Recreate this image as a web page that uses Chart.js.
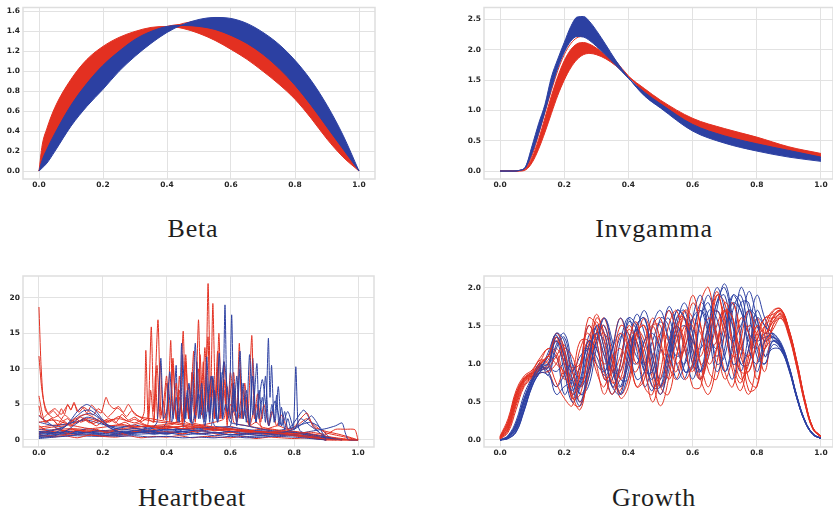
<!DOCTYPE html>
<html><head><meta charset="utf-8">
<script src="https://cdn.jsdelivr.net/npm/chart.js@4/dist/chart.umd.min.js"></script>
<style>
body{margin:0;background:#fff;width:833px;height:512px;overflow:hidden;position:relative}
canvas{position:absolute}
.t{position:absolute;font-family:"Liberation Serif",serif;font-size:26px;line-height:26px;letter-spacing:0.8px;color:#1e1e1e;text-align:center;width:300px}
</style></head><body>
<canvas id="c1" width="390" height="200" style="left:0;top:0"></canvas>
<canvas id="c2" width="393" height="200" style="left:440px;top:0"></canvas>
<canvas id="c3" width="390" height="200" style="left:0;top:265px"></canvas>
<canvas id="c4" width="393" height="200" style="left:440px;top:265px"></canvas>
<div class="t" style="left:43px;top:216px">Beta</div>
<div class="t" style="left:504px;top:216px">Invgamma</div>
<div class="t" style="left:42px;top:485px">Heartbeat</div>
<div class="t" style="left:504px;top:485px">Growth</div>
<script>
// ---------- Beta ----------
const betaX = [0,0.01,0.025,0.05,0.1,0.15,0.2,0.25,0.3,0.35,0.4,0.45,0.5,0.55,0.6,0.65,0.7,0.75,0.8,0.85,0.9,0.95,1];
const betaRedOuter = [0,0.26,0.43,0.64,0.92,1.12,1.25,1.34,1.40,1.44,1.45,1.43,1.38,1.31,1.22,1.12,1.00,0.87,0.72,0.53,0.32,0.14,0];
const betaRedInner = [0,0.1,0.2,0.36,0.64,0.86,1.04,1.19,1.31,1.39,1.45,1.47,1.47,1.44,1.38,1.30,1.19,1.05,0.88,0.68,0.46,0.23,0];
const betaBlueOuter = [0,0.03,0.08,0.2,0.45,0.65,0.82,1.0,1.15,1.28,1.39,1.47,1.52,1.54,1.53,1.48,1.39,1.27,1.11,0.91,0.66,0.36,0];
const betaBlueInner = [0,0.11,0.22,0.38,0.66,0.88,1.06,1.2,1.32,1.4,1.45,1.46,1.45,1.42,1.36,1.28,1.17,1.03,0.86,0.66,0.44,0.22,0];
const betaRedLine = [0,0.08,0.17,0.3,0.55,0.76,0.94,1.09,1.23,1.34,1.42,1.48,1.50,1.48,1.43,1.35,1.24,1.10,0.94,0.74,0.52,0.27,0];
const betaXTicks = [0,0.2,0.4,0.6,0.8,1.0];
const betaYTicks = [0,0.2,0.4,0.6,0.8,1.0,1.2,1.4,1.6];

// ---------- Invgamma ----------
const invX = [0,0.04,0.06,0.08,0.10,0.12,0.14,0.16,0.18,0.20,0.22,0.24,0.26,0.28,0.30,0.33,0.36,0.40,0.45,0.5,0.6,0.7,0.8,0.9,1.0];
const invBlueOuter = [0,0,0.01,0.08,0.42,0.78,1.10,1.55,1.85,2.12,2.38,2.54,2.55,2.46,2.32,2.08,1.83,1.54,1.24,1.04,0.66,0.46,0.33,0.23,0.16];
const invBlueInner = [0,0,0.01,0.06,0.3,0.62,0.98,1.36,1.7,1.96,2.14,2.22,2.21,2.15,2.06,1.91,1.75,1.53,1.30,1.11,0.77,0.58,0.45,0.34,0.23];
const invBlueLine = [0,0,0.01,0.07,0.36,0.7,1.04,1.45,1.77,2.04,2.26,2.38,2.38,2.3,2.19,1.99,1.79,1.54,1.25,1.05,0.69,0.49,0.37,0.27,0.19];
const invRedOuter = [0,0,0,0.02,0.14,0.36,0.64,0.95,1.25,1.50,1.70,1.84,1.92,1.94,1.92,1.85,1.74,1.56,1.36,1.17,0.87,0.70,0.56,0.40,0.29];
const invRedInner = [0,0,0.005,0.04,0.22,0.52,0.88,1.24,1.56,1.82,2.0,2.1,2.12,2.09,2.03,1.91,1.77,1.56,1.30,1.10,0.76,0.57,0.44,0.33,0.22];
const invRedLine1 = [0,0,0.01,0.06,0.3,0.66,1.05,1.42,1.75,2.0,2.18,2.29,2.32,2.27,2.18,2.01,1.82,1.57,1.31,1.11,0.78,0.59,0.46,0.35,0.25];
const invRedLine2 = [0,0,0.008,0.05,0.26,0.6,0.97,1.33,1.66,1.92,2.1,2.2,2.22,2.18,2.1,1.96,1.8,1.56,1.32,1.12,0.8,0.61,0.48,0.36,0.26];
const invXTicks = [0,0.2,0.4,0.6,0.8,1.0];
const invYTicks = [0,0.5,1.0,1.5,2.0,2.5];

// ---------- Heartbeat ----------
const heartRedX = [
 [0,.006,.012,.02,.03,.045,.06,.075,.09,.1,.115,.13,.15,.17,.19,.21,.23,.25,.27,.29,.31,.33,.36,.4,.45,.5,.55,.6,.65,.7,.75,.8,.85,.88,.9,1],
 [0,.008,.016,.03,.045,.06,.07,.08,.09,.1,.11,.12,.135,.15,.165,.18,.195,.21,.22,.235,.25,.265,.28,.3,.32,.35,.4,.45,.5,.55,.6,.65,.7,.75,.8,.85,.9],
 [0,.01,.02,.04,.06,.08,.1,.13,.16,.19,.22,.25,.28,.3,.33,.36,.4,.45,.5,.55,.6,.65,.7,.75,.8,.85,.9,.93,.96,.99,1],
 [0,.03,.06,.09,.12,.15,.18,.21,.24,.27,.3,.33,.36,.39,.42,.45,.48,.51,.54,.57,.6,.63,.66,.69,.72,.75,.78,.81,.84,.87,.9,1],
 [0,.04,.08,.12,.16,.2,.24,.28,.32,.36,.4,.44,.48,.52,.56,.6,.64,.68,.72,.76,.8,.84,.88,.92,.96,1],
 [0,.04,.08,.11,.13,.15,.17,.19,.22,.26,.3,.34,.38,.42,.46,.5,.55,.6,.65,.7,.75,.8,.85,.9,1],
 [0,.05,.1,.15,.2,.25,.3,.32,.33,.335,.342,.352,.36,.373,.382,.39,.398,.406,.413,.42,.43,.44,.452,.46,.47,.48,.5,.55,.6,.65,.7,.75,.8,.85,.9],
 [0,.08,.16,.24,.32,.4,.45,.46,.47,.48,.49,.5,.508,.515,.522,.53,.538,.545,.553,.558,.564,.572,.58,.59,.6,.62,.64,.66,.68,.7,.75,.8,.85,.9,.95,1],
 [0,.1,.2,.3,.35,.4,.5,.55,.58,.59,.6,.61,.62,.628,.636,.645,.655,.667,.675,.685,.695,.705,.72,.73,.745,.76,.78,.8,.82,.84,.86,.88,.9,.95,1],
 [0,.1,.2,.3,.34,.35,.36,.37,.38,.39,.4,.41,.42,.43,.44,.45,.46,.47,.48,.49,.5,.51,.52,.53,.54,.55,.56,.57,.58,.59,.6,.62,.64,.66,.68,.7,.75,.8,.85,.9],
 [0,.02,.04,.06,.08,.1,.12,.14,.16,.18,.2,.22,.24,.26,.28,.3,.32,.34,.36,.365,.372,.38,.39,.40,.41,.42,.43,.44,.45,.46,.5,.55,.6,.65,.7,.75,.8,.85,.9,.95],
 [0,.01,.03,.05,.07,.09,.1,.11,.125,.14,.155,.17,.185,.2,.215,.23,.245,.26,.275,.29,.31,.33,.36,.4,.45,.5,.55,.6,.65,.7,.8,.9],
 [0,.1,.2,.3,.4,.43,.44,.45,.455,.46,.47,.475,.485,.49,.5,.505,.515,.52,.53,.535,.545,.55,.56,.565,.575,.58,.59,.595,.605,.61,.65,.7,.75,.8,.85,.9,.95,1],
 [0,.05,.1,.15,.2,.25,.3,.35,.4,.45,.5,.55,.6,.65,.7,.75,.8,.82,.84,.86,.88,.9,.94,.98,1]
];
const heartRedY = [
 [18.7,11,6.5,4.2,3.6,3.1,3.4,2.7,3.0,2.6,3.1,2.5,2.8,2.3,2.7,2.4,2.9,2.2,2.5,2.0,2.3,2.1,1.8,1.9,1.6,1.8,1.4,1.5,1.2,1.1,0.9,0.7,0.5,0.3,0,0],
 [11.8,7.5,5.2,3.6,4.1,3.4,4.4,3.6,5.0,4.2,5.3,4.0,4.7,3.8,4.9,4.2,3.8,6.0,5.0,4.4,4.7,3.9,5.0,3.6,3.2,3.0,2.6,2.3,2.0,1.8,1.5,1.4,1.1,1.0,0.8,0.4,0],
 [6.2,3.8,2.4,3.0,2.1,2.6,1.9,3.2,2.4,3.0,2.5,3.3,2.6,2.9,2.2,1.8,1.6,1.9,1.3,1.6,1.1,1.4,1.0,1.2,0.9,1.1,0.8,1.5,1.5,1.45,0],
 [2.0,1.2,1.6,0.9,1.4,1.1,1.5,1.0,1.3,0.8,1.2,1.0,1.4,0.9,1.1,0.8,1.2,0.9,1.0,0.7,1.1,0.8,0.9,0.6,0.8,0.5,0.7,0.5,0.4,0.3,0.1,0],
 [0.8,0.4,0.6,0.3,0.7,0.5,0.4,0.6,0.3,0.5,0.4,0.6,0.3,0.5,0.4,0.3,0.5,0.2,0.4,0.3,0.2,0.3,0.1,0.2,0.05,0],
 [1.5,1.8,2.0,2.8,3.4,3.6,3.2,2.6,2.0,2.2,1.8,2.0,1.6,1.8,1.5,1.7,1.3,1.5,1.1,1.2,0.9,0.8,0.6,0.2,0],
 [2.5,2.8,2.2,3.0,2.6,3.0,2.4,2.8,4.0,12.6,3.0,15.9,4.0,16.9,3.5,5.5,2.8,6.5,14.0,3.5,8.0,3.0,15.3,4.0,7.5,2.5,2.2,1.8,1.6,1.3,1.1,0.9,0.7,0.4,0],
 [1.8,2.2,1.6,2.0,1.9,2.2,2.8,6.0,3.0,9.5,3.5,16.9,4.5,11.0,4.0,22.0,6.0,19.2,5.0,8.0,15.0,4.0,8.5,3.0,5.0,3.0,4.0,2.0,2.5,1.8,1.4,1.2,0.9,0.5,0.1,0],
 [1.0,1.4,1.2,1.6,1.4,1.8,2.0,2.5,3.0,7.5,3.0,9.5,4.0,13.6,3.0,8.0,3.5,14.7,3.0,6.5,2.5,5.0,2.0,4.0,2.0,3.5,1.5,1.8,3.0,3.8,1.8,1.5,1.0,0.5,0],
 [0.5,0.8,0.6,1.0,2.0,7.0,2.5,10.5,3.0,5.0,9.0,2.5,11.5,3.0,7.0,2.0,12.0,3.0,6.0,2.5,10.0,3.5,13.0,4.0,9.0,3.0,12.5,3.0,7.0,2.0,9.5,2.5,7.0,2.0,5.0,1.5,2.0,1.0,0.8,0],
 [3.5,2.6,3.0,2.2,3.5,2.8,2.4,3.1,2.5,2.0,2.6,3.0,2.4,3.6,2.8,3.2,2.6,3.0,2.5,9.0,3.0,11.0,2.8,8.0,3.2,10.5,3.0,6.0,3.5,2.5,2.0,1.6,1.9,1.3,1.5,1.0,1.2,0.7,0.3,0],
 [4.8,3.0,3.8,4.4,3.6,4.9,4.3,5.1,3.9,4.6,4.1,3.5,4.4,3.9,3.2,3.8,4.5,4.0,3.3,4.1,3.4,2.9,2.6,2.4,2.1,1.8,1.6,1.3,1.1,0.9,0.6,0],
 [1.2,1.6,1.3,1.8,2.0,2.5,9.0,2.5,3.0,11.0,3.0,5.0,12.5,3.0,6.0,12.0,3.0,7.0,14.5,3.0,8.5,3.0,10.0,3.0,6.5,11.0,3.0,5.0,8.0,2.5,2.0,1.6,1.3,1.0,0.8,0.5,0.2,0],
 [1.2,0.9,1.5,1.1,1.3,0.8,1.4,1.0,1.2,0.9,1.3,1.0,1.1,0.8,1.0,0.9,1.6,2.4,3.0,2.2,1.5,1.2,0.8,0.3,0]
];
const heartBlueX = [
 [0,.03,.06,.08,.1,.12,.14,.15,.16,.18,.2,.22,.25,.3,.35,.4,.45,.5,.55,.6,.65,.7,.75,.8,.85,.9],
 [0,.04,.08,.1,.12,.14,.16,.18,.2,.23,.26,.3,.35,.4,.45,.5,.55,.6,.65,.7,.75,.8,.85,.9,.95],
 [0,.05,.09,.12,.15,.18,.21,.24,.28,.32,.36,.4,.45,.5,.55,.6,.65,.7,.75,.8,.84,.854,.87,.9],
 [0,.05,.1,.15,.2,.25,.3,.35,.4,.45,.5,.55,.6,.65,.7,.75,.8,.85,.9,.93,.95,.96,.97,1],
 [0,.1,.2,.3,.35,.37,.382,.39,.4,.41,.42,.43,.44,.447,.455,.465,.475,.482,.49,.5,.51,.52,.526,.535,.545,.555,.565,.575,.585,.6,.65,.7,.75,.8,.85,.9],
 [0,.1,.2,.3,.4,.5,.54,.55,.56,.57,.576,.583,.59,.597,.604,.611,.62,.63,.64,.65,.66,.67,.683,.69,.7,.71,.719,.724,.729,.737,.745,.752,.76,.77,.78,.79,.798,.805,.812,.82,.85,.9,.95],
 [0,.1,.2,.3,.4,.45,.47,.48,.5,.52,.54,.56,.58,.6,.61,.62,.63,.64,.65,.66,.67,.68,.7,.72,.74,.76,.78,.8,.82,.85,.88,.9],
 [0,.05,.1,.15,.2,.25,.3,.35,.4,.45,.5,.55,.6,.65,.7,.75,.8,.85,.9],
 [0,.04,.08,.11,.13,.15,.17,.19,.21,.24,.28,.32,.36,.4,.45,.5,.55,.6,.65,.7,.75,.8,.85,.9],
 [0,.1,.2,.3,.38,.4,.405,.415,.42,.43,.435,.445,.45,.46,.465,.475,.48,.49,.495,.505,.51,.52,.525,.535,.54,.55,.6,.65,.7,.75,.8,.85,.9],
 [0,.1,.2,.3,.4,.5,.55,.6,.61,.62,.63,.64,.65,.66,.67,.68,.69,.7,.71,.72,.73,.74,.75,.76,.77,.78,.8,.83,.86,.88,.9,.93],
 [0,.05,.1,.15,.2,.25,.3,.35,.4,.45,.5,.55,.6,.65,.7,.75,.8,.85,.88,.9,.92]
];
const heartBlueY = [
 [0.5,0.8,1.2,1.8,2.8,4.0,4.8,5.0,4.8,4.0,2.8,1.8,1.2,1.0,1.2,0.9,1.1,0.8,1.0,0.7,0.8,0.6,0.5,0.4,0.2,0],
 [1.0,1.3,1.8,2.6,3.4,4.1,4.2,3.6,2.6,1.8,1.4,1.6,1.3,1.5,1.2,1.4,1.0,1.2,0.9,1.0,0.8,0.7,0.5,0.3,0],
 [0.3,0.6,1.4,2.4,3.2,2.9,2.0,1.3,0.9,1.1,0.8,1.0,0.7,0.9,0.6,0.8,0.5,0.6,0.9,1.5,2.8,3.4,2.5,0],
 [0.2,0.4,0.6,1.0,0.7,0.5,0.6,0.4,0.5,0.3,0.4,0.3,0.5,0.3,0.4,0.6,0.8,1.2,1.6,2.0,2.4,1.0,0,0],
 [0.8,1.1,0.9,1.2,1.5,2.5,11.5,3.0,4.0,9.6,3.0,6.0,2.5,13.6,3.0,7.0,2.5,6.5,13.6,3.0,8.0,3.0,11.7,3.5,9.0,3.0,12.2,3.0,5.0,2.5,2.0,1.5,1.2,1.0,0.6,0],
 [1.2,0.9,1.3,1.0,1.4,1.6,2.0,7.0,2.5,9.5,3.0,19.0,4.0,5.5,17.6,4.0,9.0,3.0,8.0,2.5,12.0,3.5,10.75,3.0,6.0,2.5,14.3,6.0,10.5,2.5,6.3,2.0,4.6,1.5,3.0,1.5,2.0,10.3,2.0,1.2,0.8,0.4,0],
 [0.4,0.6,0.5,0.8,1.0,1.5,8.0,2.0,6.5,2.0,9.0,2.5,11.0,3.0,8.0,2.0,12.5,3.0,7.0,2.0,9.0,2.5,8.5,2.0,5.5,2.0,4.0,1.5,3.0,2.0,1.0,0],
 [2.5,2.0,2.4,2.8,2.2,1.8,2.1,1.6,1.9,1.5,1.8,1.4,1.6,1.2,1.3,1.0,1.1,0.6,0],
 [1.5,1.4,1.9,2.6,3.3,3.7,3.6,3.0,2.2,1.6,1.9,1.5,1.8,1.4,1.6,1.2,1.5,1.1,1.3,0.9,1.0,0.7,0.4,0],
 [0.6,0.9,0.7,1.0,1.5,2.5,8.0,2.5,3.0,10.5,2.5,5.0,12.0,3.0,6.0,2.5,9.5,3.0,11.0,3.0,7.0,2.5,9.0,2.5,6.0,2.0,1.8,1.5,1.2,1.0,0.7,0.4,0],
 [0.9,1.2,1.0,1.3,1.1,1.4,1.8,2.0,7.5,2.5,10.0,3.0,6.0,2.0,11.5,2.5,7.0,3.0,9.0,2.0,5.0,2.5,7.5,2.0,4.0,1.5,2.5,4.2,2.0,1.0,0.5,0],
 [3.4,1.8,1.0,1.6,1.2,0.9,1.3,1.1,0.8,1.2,0.9,1.1,0.7,1.0,0.8,1.3,1.8,2.5,1.8,0.8,0]
];
const heartXTicks = [0,0.2,0.4,0.6,0.8,1.0];
const heartYTicks = [0,5,10,15,20];

// ---------- Growth ----------
const growthX = [0,0.025,0.05,0.075,0.1,0.125,0.15,0.175,0.2,0.225,0.25,0.275,0.3,0.325,0.35,0.375,0.4,0.425,0.45,0.475,0.5,0.525,0.55,0.575,0.6,0.625,0.65,0.675,0.7,0.725,0.75,0.775,0.8,0.825,0.85,0.875,0.9,0.925,0.95,0.975,1];
const growthRed = [
 [0.02,0.2,0.58,0.78,0.86,1.0,1.1,1.35,1.0,0.6,0.9,1.5,1.3,0.8,0.9,1.4,1.2,0.7,0.8,1.5,1.6,1.1,0.9,1.4,1.9,1.5,1.0,1.2,1.7,1.6,1.1,0.9,1.3,1.6,1.65,1.7,1.45,1.0,0.5,0.15,0.04],
 [0.04,0.25,0.62,0.82,0.9,1.05,1.0,0.75,0.55,0.45,0.9,1.6,1.5,0.9,0.6,1.0,1.5,1.3,0.7,0.6,1.2,1.7,1.4,0.8,1.0,1.8,2.0,1.3,0.8,1.1,1.6,1.4,0.8,1.2,1.6,1.68,1.4,0.95,0.48,0.14,0.04],
 [0.01,0.12,0.45,0.72,0.82,0.92,0.95,1.1,1.25,0.9,0.7,1.1,1.55,1.2,0.75,0.9,1.3,1.55,1.0,0.5,0.9,1.5,1.7,1.2,0.9,1.3,1.6,1.4,0.9,0.7,1.3,1.7,1.3,0.9,1.5,1.62,1.42,1.02,0.52,0.16,0.05],
 [0.03,0.18,0.55,0.8,0.88,0.98,1.1,1.0,0.9,0.8,1.2,1.4,1.0,0.6,1.0,1.5,1.4,1.0,1.2,1.6,1.3,0.8,1.1,1.7,1.6,1.0,1.2,1.9,1.8,1.2,0.8,1.0,1.5,1.4,1.55,1.65,1.38,0.98,0.5,0.15,0.04],
 [0.02,0.15,0.5,0.76,0.84,0.96,1.05,1.3,1.1,0.55,0.6,1.2,1.65,1.3,0.7,0.8,1.25,1.4,1.1,0.7,0.8,1.3,1.5,1.3,0.7,0.7,1.4,1.95,1.5,0.9,0.65,1.1,1.5,1.3,1.45,1.6,1.4,0.98,0.5,0.15,0.04],
 [0.05,0.28,0.65,0.84,0.92,1.08,1.2,1.15,0.85,0.7,1.0,1.3,1.2,1.0,1.1,1.2,1.0,0.9,1.3,1.5,1.2,1.0,1.3,1.6,1.3,1.1,1.5,1.7,1.4,1.1,1.2,1.5,1.4,1.2,1.5,1.6,1.36,0.95,0.47,0.14,0.04],
 [0.01,0.1,0.4,0.7,0.8,0.88,0.9,1.0,1.2,1.1,0.8,0.9,1.3,1.4,1.1,0.8,1.0,1.4,1.5,1.1,0.7,1.0,1.5,1.6,1.2,0.8,1.1,1.5,1.7,1.3,0.9,0.9,1.3,1.5,1.6,1.7,1.45,1.03,0.53,0.16,0.05],
 [0.03,0.22,0.6,0.8,0.87,1.02,1.1,1.4,1.2,0.6,0.4,0.9,1.4,1.5,1.0,0.55,0.7,1.3,1.6,1.3,0.7,0.6,1.1,1.5,1.5,1.0,0.7,1.2,1.8,1.6,0.9,0.6,1.0,1.5,1.7,1.72,1.44,1.0,0.5,0.15,0.04],
 [0.02,0.16,0.52,0.77,0.85,0.97,0.9,0.7,0.9,0.8,0.5,0.8,1.4,1.6,1.1,0.6,0.8,1.4,1.5,0.9,0.6,1.0,1.6,1.6,1.0,0.8,1.4,1.9,1.6,1.0,0.75,1.2,1.6,1.4,1.55,1.66,1.42,1.0,0.5,0.15,0.04],
 [0.04,0.24,0.6,0.81,0.89,1.03,1.2,1.1,0.8,0.9,1.3,1.3,0.9,0.7,1.2,1.6,1.2,0.7,0.9,1.5,1.5,1.0,0.8,1.3,1.8,1.5,0.9,0.8,1.4,1.8,1.4,0.8,0.7,1.3,1.62,1.7,1.44,1.01,0.51,0.15,0.04],
 [0.01,0.14,0.48,0.74,0.83,0.94,0.98,1.35,1.15,0.5,0.45,1.0,1.6,1.4,0.8,0.65,1.1,1.45,1.3,0.8,0.45,0.8,1.4,1.7,1.4,0.8,0.6,1.0,1.6,1.8,1.3,0.65,0.7,1.4,1.68,1.72,1.46,1.03,0.52,0.16,0.05],
 [0.03,0.2,0.56,0.79,0.87,0.99,1.1,1.2,1.05,0.95,1.0,1.25,1.35,1.1,0.9,1.1,1.45,1.3,1.0,1.1,1.4,1.3,1.0,1.2,1.6,1.4,1.2,1.3,1.7,1.5,1.2,1.1,1.4,1.6,1.6,1.64,1.4,0.99,0.5,0.15,0.04]
];
const growthBlue = [
 [0,0.03,0.15,0.45,0.75,0.92,0.95,1.35,1.1,0.6,0.8,1.3,1.2,0.9,1.2,1.6,1.3,0.8,0.9,1.5,1.7,1.3,0.8,1.0,1.6,1.9,1.4,0.9,1.2,1.9,1.8,1.2,1.0,1.3,1.4,1.25,0.95,0.55,0.24,0.08,0.02],
 [0,0.05,0.22,0.55,0.8,0.98,1.0,1.4,1.3,0.8,0.5,1.0,1.5,1.2,0.7,1.0,1.6,1.5,1.0,0.8,1.3,1.7,1.4,0.9,1.0,1.6,1.8,1.3,0.9,1.3,2.0,1.7,1.1,1.0,1.3,1.22,0.96,0.56,0.25,0.08,0.02],
 [0,0.02,0.1,0.38,0.7,0.88,0.85,0.7,0.85,1.0,0.7,0.9,1.3,1.6,1.2,0.7,1.0,1.5,1.6,1.1,0.8,1.2,1.7,1.6,1.0,0.9,1.5,2.0,1.7,1.0,1.1,1.7,1.6,1.1,1.2,1.18,0.93,0.55,0.24,0.07,0.02],
 [0,0.04,0.18,0.5,0.78,0.95,1.1,1.3,0.9,0.5,0.7,1.2,1.4,1.1,0.7,0.6,1.1,1.45,1.2,0.7,0.7,1.2,1.5,1.2,0.8,1.2,1.7,1.6,1.1,0.8,1.4,1.95,1.6,1.1,1.3,1.24,0.97,0.57,0.25,0.08,0.02],
 [0,0.03,0.14,0.42,0.72,0.9,0.95,0.9,1.0,0.9,1.1,1.2,1.0,0.9,1.2,1.4,1.1,1.0,1.3,1.4,1.2,1.1,1.4,1.5,1.3,1.2,1.5,1.7,1.5,1.3,1.5,1.7,1.5,1.3,1.35,1.26,0.98,0.58,0.26,0.08,0.02],
 [0,0.06,0.25,0.6,0.82,1.0,0.85,1.2,1.35,0.9,0.6,0.8,1.3,1.5,1.0,0.6,0.9,1.5,1.6,1.0,0.6,1.0,1.6,1.7,1.2,0.9,1.3,1.8,2.0,1.5,1.0,1.2,1.7,1.5,1.4,1.28,0.98,0.57,0.25,0.08,0.02],
 [0,0.02,0.12,0.4,0.72,0.9,1.15,1.38,1.0,0.65,1.0,1.5,1.3,0.8,0.8,1.3,1.6,1.2,0.7,1.0,1.6,1.5,1.0,0.8,1.3,1.8,1.6,1.0,1.1,1.7,1.9,1.4,0.9,1.2,1.3,1.2,0.94,0.55,0.24,0.07,0.02],
 [0,0.04,0.2,0.52,0.78,0.96,0.9,0.6,0.7,0.75,0.7,1.1,1.4,1.3,0.9,0.9,1.3,1.3,0.9,0.9,1.4,1.6,1.2,1.0,1.4,1.7,1.5,1.1,1.4,1.8,1.7,1.3,1.2,1.4,1.35,1.22,0.95,0.56,0.25,0.08,0.02],
 [0,0.03,0.16,0.46,0.76,0.93,1.1,1.4,1.2,0.7,0.45,0.9,1.5,1.4,0.9,0.7,1.2,1.65,1.4,0.9,0.7,1.1,1.7,1.6,1.1,0.8,1.2,1.8,1.9,1.3,0.9,1.4,1.9,1.6,1.38,1.25,0.96,0.56,0.25,0.08,0.02],
 [0,0.05,0.21,0.54,0.79,0.97,0.9,1.25,1.4,1.0,0.6,0.7,1.2,1.6,1.3,0.8,0.8,1.4,1.7,1.3,0.7,0.9,1.5,1.8,1.4,0.9,1.1,1.7,2.05,1.6,1.0,1.0,1.6,1.5,1.32,1.22,0.95,0.56,0.25,0.08,0.02],
 [0,0.02,0.11,0.39,0.71,0.89,1.0,1.3,1.1,0.55,0.75,1.35,1.45,0.95,0.6,1.0,1.55,1.45,0.9,0.65,1.2,1.75,1.5,0.9,0.95,1.6,1.9,1.4,0.9,1.2,1.8,1.8,1.2,1.0,1.25,1.18,0.92,0.54,0.24,0.07,0.02],
 [0,0.04,0.19,0.5,0.77,0.94,1.0,1.1,0.6,0.8,0.95,1.2,1.1,0.85,1.0,1.35,1.4,1.1,1.0,1.3,1.55,1.35,1.1,1.2,1.6,1.7,1.4,1.2,1.5,1.9,1.7,1.4,1.3,1.35,1.36,1.24,0.96,0.57,0.25,0.08,0.02]
];
const growthXTicks = [0,0.2,0.4,0.6,0.8,1.0];
const growthYTicks = [0,0.5,1.0,1.5,2.0];

// ---------- styling ----------
const RED = 'rgb(227,48,33)';
const BLUE = 'rgb(44,64,162)';
const GRID = '#e2e2e2';
const TICKFONT = {family: 'DejaVu Sans', weight: 'bold', size: 7.5};
const TICKCOLOR = '#262626';

const framePlugin = {
  id: 'frame',
  beforeDatasetsDraw(chart) {
    const a = chart.chartArea, ctx = chart.ctx;
    ctx.save();
    ctx.strokeStyle = '#dedede';
    ctx.lineWidth = 1.5;
    ctx.strokeRect(a.left, a.top, a.right - a.left, a.bottom - a.top);
    ctx.restore();
  }
};

function pts(xs, ys) { return xs.map((x, i) => ({x: x, y: ys[i]})); }
function ln(xs, ys, color, extra) {
  return Object.assign({data: pts(xs, ys), borderColor: color, backgroundColor: color,
    borderWidth: 1, pointRadius: 0, fill: false, tension: 0}, extra || {});
}

function makeChart(id, cfg) {
  const c = document.getElementById(id);
  const W = c.width, H = c.height;
  new Chart(c, {
    type: 'line',
    data: {datasets: cfg.datasets},
    plugins: [framePlugin],
    options: {
      responsive: false, animation: false, devicePixelRatio: 1,
      layout: {padding: {top: cfg.area[1], right: W - cfg.area[2], left: 0, bottom: 0}},
      plugins: {legend: {display: false}, tooltip: {enabled: false}},
      elements: {point: {radius: 0}},
      scales: {
        x: {type: 'linear', min: cfg.xr[0], max: cfg.xr[1],
          afterBuildTicks: s => { s.ticks = cfg.xt.map(v => ({value: v})); },
          afterFit: s => { s.height = H - cfg.area[3]; },
          grid: {color: GRID, lineWidth: 1, drawTicks: false},
          border: {display: false},
          ticks: {padding: 2, font: TICKFONT, color: TICKCOLOR, maxRotation: 0, autoSkip: false,
            callback: v => cfg.xf(v)}},
        y: {type: 'linear', min: cfg.yr[0], max: cfg.yr[1],
          afterBuildTicks: s => { s.ticks = cfg.yt.map(v => ({value: v})); },
          afterFit: s => { s.width = cfg.area[0]; },
          grid: {color: GRID, lineWidth: 1, drawTicks: false},
          border: {display: false},
          ticks: {padding: 3, font: TICKFONT, color: TICKCOLOR, autoSkip: false,
            callback: v => cfg.yf(v)}}
      }
    }
  });
}
const f1 = v => Number(v).toFixed(1);
const f0 = v => String(Math.round(v));
const smooth = {cubicInterpolationMode: 'monotone'};

// Beta
makeChart('c1', {
  area: [23, 7, 375, 179], xr: [-0.05, 1.05], yr: [-0.08, 1.64],
  xt: betaXTicks, yt: betaYTicks, xf: f1, yf: f1,
  datasets: [
    ln(betaX, betaBlueOuter, BLUE, Object.assign({fill: '+1'}, smooth)),
    ln(betaX, betaBlueInner, BLUE, smooth),
    ln(betaX, betaRedOuter, RED, Object.assign({fill: '+1'}, smooth)),
    ln(betaX, betaRedInner, RED, smooth),
    ln(betaX, betaRedLine, RED, smooth)
  ]
});

// Invgamma
makeChart('c2', {
  area: [44, 7, 832, 179], xr: [-0.05, 1.0375], yr: [-0.131, 2.698],
  xt: invXTicks, yt: invYTicks, xf: f1, yf: f1,
  datasets: [
    ln(invX, invBlueOuter, BLUE, Object.assign({fill: '+1'}, smooth)),
    ln(invX, invBlueInner, BLUE, smooth),
    ln(invX, invRedOuter, RED, Object.assign({fill: '+1'}, smooth)),
    ln(invX, invRedInner, RED, smooth),
    ln(invX, invBlueLine, BLUE, smooth),
    ln(invX, invRedLine1, RED, smooth),
    ln(invX, invRedLine2, RED, smooth)
  ]
});

// Heartbeat
const hbSets = [];
for (let i = 0; i < Math.max(heartRedX.length, heartBlueX.length); i++) {
  if (i < heartBlueX.length) hbSets.push(ln(heartBlueX[i], heartBlueY[i], BLUE, {tension: 0.2}));
  if (i < heartRedX.length) hbSets.push(ln(heartRedX[i], heartRedY[i], RED, {tension: 0.2}));
}
makeChart('c3', {
  area: [23, 11, 374, 182], xr: [-0.05, 1.05], yr: [-0.99, 23.06],
  xt: heartXTicks, yt: heartYTicks, xf: f1, yf: f0,
  datasets: hbSets
});

// Growth
const grSets = [];
for (let i = 0; i < growthRed.length; i++) {
  grSets.push(ln(growthX, growthRed[i], RED, {tension: 0.4}));
  grSets.push(ln(growthX, growthBlue[i], BLUE, {tension: 0.4}));
}
makeChart('c4', {
  area: [44, 11, 832, 182], xr: [-0.05, 1.0375], yr: [-0.092, 2.154],
  xt: growthXTicks, yt: growthYTicks, xf: f1, yf: f1,
  datasets: grSets
});
</script>
</body></html>
